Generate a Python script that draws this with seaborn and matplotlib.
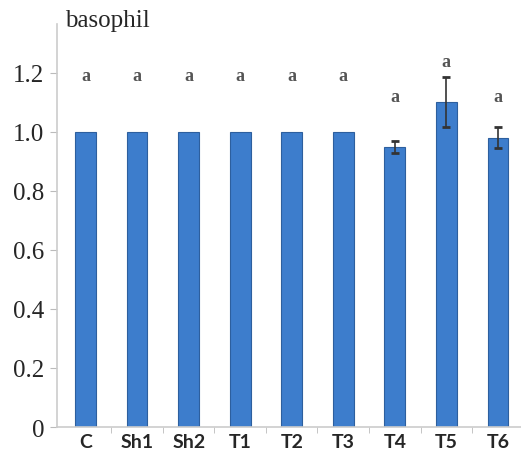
import numpy as np
import pandas as pd
import seaborn as sns
import matplotlib.pyplot as plt

groups = ['C', 'Sh1', 'Sh2', 'T1', 'T2', 'T3', 'T4', 'T5', 'T6']
values = [1.0, 1.0, 1.0, 1.0, 1.0, 1.0, 0.95, 1.10, 0.98]
errors = [0, 0, 0, 0, 0, 0, 0.02, 0.085, 0.035]
letters = ['a'] * 9
letter_y = [1.19, 1.19, 1.19, 1.19, 1.19, 1.19, 1.12, 1.24, 1.12]
yticks = [0, 0.2, 0.4, 0.6, 0.8, 1.0, 1.2]
ytick_labels = ['0', '0.2', '0.4', '0.6', '0.8', '1.0', '1.2']

df = pd.DataFrame({'group': groups, 'value': values})

sns.set_style('white')
fig = plt.figure(figsize=(5.21, 4.56), dpi=100)
ax = fig.add_axes([0.109, 0.0614, 0.891, 0.884])

sns.barplot(data=df, x='group', y='value', color='#3d7dcc', width=0.4,
            edgecolor='#2d5f9e', linewidth=0.8, saturation=1, ax=ax)

pos = np.arange(len(groups))
err = np.array(errors)
mask = err > 0
ax.errorbar(pos[mask], np.array(values)[mask], yerr=err[mask], fmt='none',
            ecolor='#333333', elinewidth=1.2, capsize=3, capthick=2)

for i, (lab, yy) in enumerate(zip(letters, letter_y)):
    ax.text(i, yy, lab, ha='center', va='center', fontsize=13,
            family='Liberation Serif', color='#555555', fontweight='bold')

ax.set_ylim(0, 1.366)
ax.set_xlim(-0.56, 8.45)
ax.set_yticks(yticks)
ax.set_yticklabels(ytick_labels, family='Liberation Serif', fontsize=18)
ax.set_xticks(pos)
ax.set_xticklabels(groups, family='Lato', fontweight='bold', fontsize=14)
ax.set_xticks(pos[:-1] + 0.5, minor=True)
ax.tick_params(axis='y', which='major', left=True, length=5, color='#bbbbbb', pad=4)
ax.tick_params(axis='x', which='major', bottom=False, pad=1)
ax.tick_params(axis='x', which='minor', bottom=True, length=4, color='#bbbbbb')
ax.set_xlabel('')
ax.set_ylabel('')

for s in ['top', 'right']:
    ax.spines[s].set_visible(False)
for s in ['left', 'bottom']:
    ax.spines[s].set_color('#cccccc')
    ax.spines[s].set_linewidth(1.2)

fig.text(0.125, 0.955, 'basophil', family='Liberation Serif', fontsize=18,
         ha='left', va='center')

fig.savefig('out.png', dpi=100)
